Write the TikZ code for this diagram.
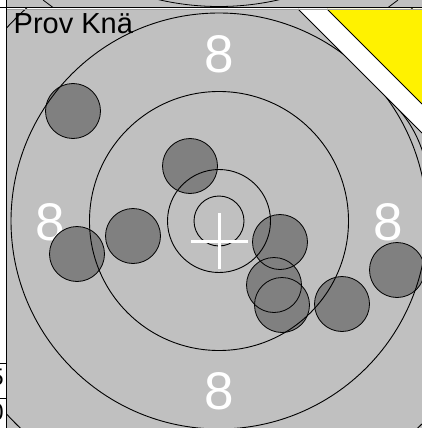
\documentclass[tikz,border=0pt]{standalone}
\usepackage{fontspec}
\newfontfamily\hv{Liberation Sans}
\definecolor{paneg}{HTML}{C0C0C0}
\definecolor{shotg}{HTML}{808080}
\definecolor{lineg}{HTML}{A0A0A0}
\tikzset{
  ring/.style={draw=black, line width=0.9pt},
  shotfill/.style={fill=shotg},
  shotline/.style={draw=black, line width=0.8pt},
  zone/.style={font=\hv\fontsize{53}{53}\selectfont, text=white, inner sep=0pt, anchor=base},
  cross/.style={draw=white, line width=3pt},
  frame/.style={draw=black, line width=1pt},
}
\begin{document}
\begin{tikzpicture}[x=1pt,y=-1pt]
\useasboundingbox (0,0) rectangle (422,428);
\fill[white] (0,0) rectangle (422,428);
% panels
\fill[paneg] (7,9) rectangle (422,428);
\fill[paneg] (7,0) rectangle (422,7.5);
% top strip content
\begin{scope}
\clip (7,0) rectangle (422,7.5);
\draw[line width=0.8pt] (219,-261.5) circle (268);
\draw[line width=0.8pt] (43,0) -- (53,7.5);
\draw[line width=0.8pt] (398,0) -- (388,7.5);
\end{scope}
% zone numbers
\node[zone] (z8t) at (219,72) {8};
\node[zone] (z8l) at (50,240) {8};
\node[zone] (z8r) at (388.5,240) {8};
\node[zone] (z8b) at (219,409) {8};
% shots
\def\shotlist{(73,111),(190,166),(133,236),(77,254),(280,242),(274,285),(282,305),(342,304),(397,270)}
\begin{scope}
\clip (7,9) rectangle (422,428);
\foreach \p in \shotlist { \fill[shotfill] \p circle (27.5); }
\foreach \p in \shotlist { \draw[shotline] \p circle (27.5); }
% rings
\coordinate (c) at (219,221);
\foreach \r in {25,51.5,129.5,208,287} { \draw[ring] (c) circle (\r); }
\draw[ring] (390,101) .. controls (404,113) and (417,132) .. (424,156);
% crosshair
\coordinate (m) at (219.5,241);
\draw[cross] ([yshift=-28pt]m) -- ([yshift=28pt]m);
\draw[cross] ([xshift=-28.5pt]m) -- ([xshift=28.5pt]m);
% corner band
\fill[white] (298,9) -- (327,9) -- (422,104) -- (422,133) -- cycle;
\fill[yellow] (327,9) -- (422,9) -- (422,104) -- cycle;
\draw[line width=0.9pt] (298,9) -- (422,133);
\draw[line width=0.9pt] (327,9) -- (422,104);
\end{scope}
% title
\node[font=\hv\fontsize{29}{29}\selectfont, inner sep=0pt, anchor=base west] (title) at (13.5,34) {Prov Knä};
% left strip digits (cut off by the window edge, as in the reference)
\begin{scope}
\clip (0,0) rectangle (6,428);
\node[font=\hv\fontsize{24}{24}\selectfont, inner sep=0pt, anchor=base east] (d5) at (4,385) {5};
\node[font=\hv\fontsize{24}{24}\selectfont, inner sep=0pt, anchor=base east] (d0) at (4,420) {0};
\end{scope}
% frame lines
\draw[draw=lineg, line width=1pt] (7,9.8) -- (422,9.8);
\draw[frame] (0,7.5) -- (422,7.5);
\draw[frame] (6.5,0) -- (6.5,428);
\draw[frame] (0,363) -- (6.5,363);
\draw[frame] (0,398) -- (6.5,398);
\end{tikzpicture}
\end{document}
